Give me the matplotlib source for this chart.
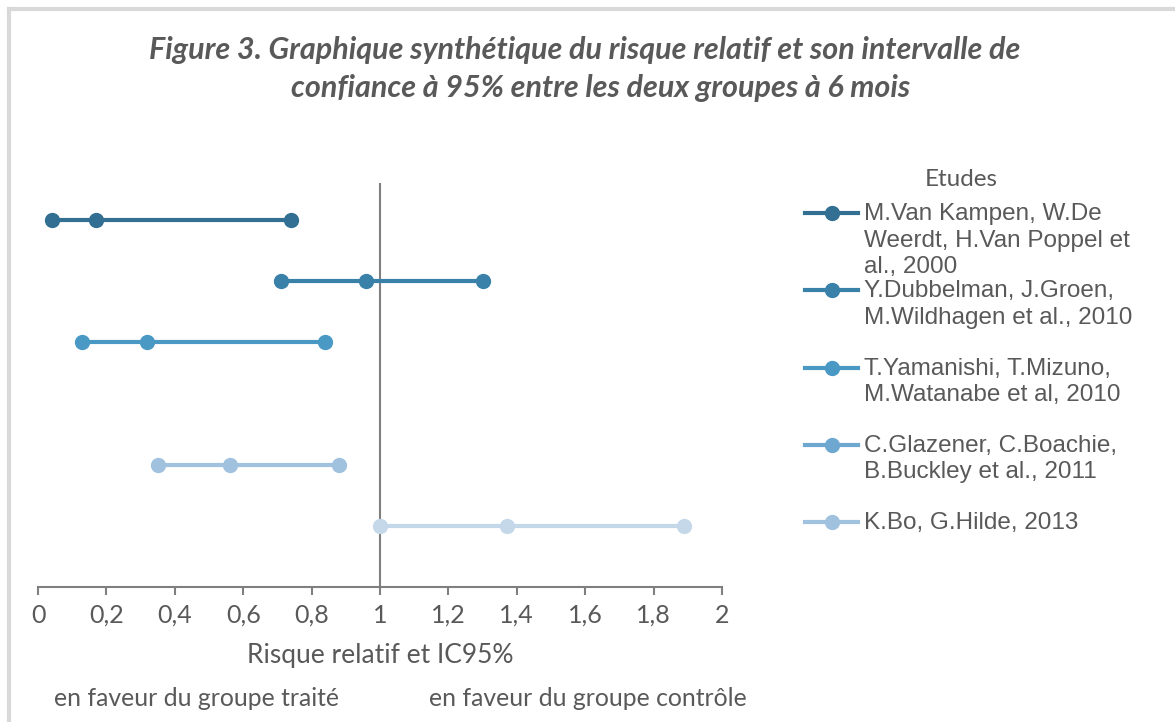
import matplotlib.pyplot as plt
from matplotlib.lines import Line2D

# studies (legend order) and their RR / CI95 values
etudes = ["M.Van Kampen, W.De\nWeerdt, H.Van Poppel et\nal., 2000",
          "Y.Dubbelman, J.Groen,\nM.Wildhagen et al., 2010",
          "T.Yamanishi, T.Mizuno,\nM.Watanabe et al, 2010",
          "C.Glazener, C.Boachie,\nB.Buckley et al., 2011",
          "K.Bo, G.Hilde, 2013"]
ic_bas = [0.04, 0.71, 0.13, 0.35, 1.00]
rr = [0.17, 0.96, 0.32, 0.56, 1.37]
ic_haut = [0.74, 1.30, 0.84, 0.88, 1.89]
rang = [6, 5, 4, 2, 1]

xticks = [0, 0.2, 0.4, 0.6, 0.8, 1, 1.2, 1.4, 1.6, 1.8, 2]
xtick_labels = ["0", "0,2", "0,4", "0,6", "0,8", "1", "1,2", "1,4", "1,6", "1,8", "2"]

couleurs = ["#336F92", "#3A81AA", "#4A99C5", "#A0C2DE", "#C5D8E9"]
couleurs_leg = ["#336F92", "#3A81AA", "#4A99C5", "#6EA8D0", "#A0C2DE"]
gris = "#595959"

fig = plt.figure(figsize=(11.75, 7.22), dpi=100)
ax = fig.add_axes([38/1175, 1-587/722, 684/1175, 404/722])

for i in range(len(etudes)):
    xs = [ic_bas[i], rr[i], ic_haut[i]]
    ys = [rang[i]] * 3
    ax.plot(xs, ys, "-o", color=couleurs[i], lw=3, ms=10, zorder=3, clip_on=False)

ax.axvline(1, color="#7F7F7F", lw=1.5, zorder=2)

ax.set_xlim(0, 2)
ax.set_ylim(0, 6.6)
ax.set_xticks(xticks)
ax.set_xticklabels(xtick_labels, fontsize=18, color=gris, family="Lato")
ax.set_yticks([])
for s in ["left", "right", "top"]:
    ax.spines[s].set_visible(False)
ax.spines["bottom"].set_color("#7F7F7F")
ax.spines["bottom"].set_linewidth(1.5)
ax.tick_params(axis="x", direction="out", length=6, width=1.5, color="#7F7F7F", pad=6)

ax.set_xlabel("Risque relatif et IC95%", fontsize=19, color=gris, family="Lato", labelpad=12)

fig.text(197/1175, 1-698/722, "en faveur du groupe traité", ha="center", va="center",
         fontsize=17.8, color=gris, family="Lato")
fig.text(588/1175, 1-698/722, "en faveur du groupe contrôle", ha="center", va="center",
         fontsize=17.8, color=gris, family="Lato")

fig.text(585/1175, 1-50/722, "Figure 3. Graphique synthétique du risque relatif et son intervalle de",
         ha="center", va="center", fontsize=22, color=gris, family="Lato",
         style="italic", weight="bold")
fig.text(601/1175, 1-88/722, "confiance à 95% entre les deux groupes à 6 mois",
         ha="center", va="center", fontsize=22, color=gris, family="Lato",
         style="italic", weight="bold")

# legend drawn by hand so that handles sit on the first line of each label
fig.text(961/1175, 1-180/722, "Etudes", ha="center", va="center",
         fontsize=17.5, color=gris, family="Lato")
for i in range(len(etudes)):
    yy = 1 - (213 + 77.3*i)/722
    fig.add_artist(Line2D([805/1175, 858/1175], [yy, yy], color=couleurs_leg[i], lw=3,
                          transform=fig.transFigure))
    fig.add_artist(Line2D([832/1175], [yy], marker="o", ms=10, color=couleurs_leg[i],
                          transform=fig.transFigure))
    fig.text(864/1175, yy + 10/722, etudes[i], ha="left", va="top", fontsize=17.5,
             color=gris, family="Liberation Sans", linespacing=1.27)

# chart frame (only left and top visible)
fig.add_artist(Line2D([9/1175, 9/1175], [0, 1-9/722], color="#D9D9D9", lw=3,
                      transform=fig.transFigure))
fig.add_artist(Line2D([9/1175, 1], [1-9/722, 1-9/722], color="#D9D9D9", lw=3,
                      transform=fig.transFigure))

fig.savefig("out.png", dpi=100)
